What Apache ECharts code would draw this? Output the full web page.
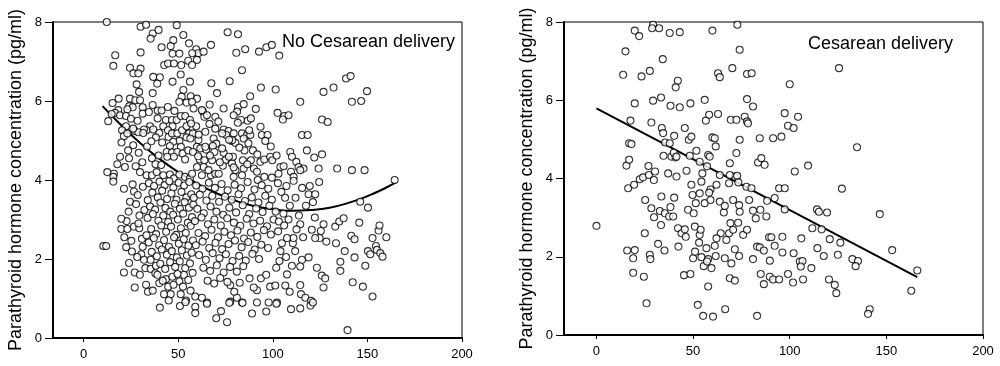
<!DOCTYPE html>
<html>
<head>
<meta charset="utf-8">
<script src="https://cdn.jsdelivr.net/npm/echarts@6/dist/echarts.min.js"></script>
<style>
html,body{margin:0;padding:0;background:#fff;}
#chart{width:1000px;height:366px;}
</style>
</head>
<body>
<div id="chart"></div>
<script>
// ---------- DATA ----------
const xTickValues = [0, 50, 100, 150, 200];
const yTickValues = [0, 2, 4, 6, 8];
const yAxisTitle = 'Parathyroid hormone concentration (pg/ml)';
const leftLabel = 'No Cesarean delivery';
const rightLabel = 'Cesarean delivery';

// Left panel: no cesarean delivery (x, PTH)
const leftPointsTop = [
[12.2,8.0],[30.1,7.88],[33.0,7.93],[36.5,7.71],[39.6,7.8],[35.4,7.58],[49.2,7.92],[52.7,7.67],[47.4,7.54],[46.0,7.39],[47.0,7.2],[50.6,7.2],[55.7,7.46],[41.2,7.36],[16.7,7.16],[15.7,6.89],[30.1,7.23],[24.5,6.84],[26.3,6.7],[30.1,6.82],[28.9,6.7],[42.6,6.91],[44.6,6.95],[47.7,6.95],[51.6,6.91],[55.3,7.02],[36.8,6.61],[40.3,6.6],[38.9,6.44],[47.0,6.49],[51.3,6.67],[56.2,6.49],[28.0,6.42],[36.5,6.2],[29.3,6.23],[52.7,6.28],[51.8,6.11],[24.5,6.06],[27.3,6.02],[29.8,6.02],[18.5,6.06],[56.6,6.12],
[59.5,7.31],[60.6,7.21],[57.4,7.21],[63.4,7.25],[67.3,7.42],[59.9,7.04],[57.3,6.91],[76.1,7.74],[81.6,7.69],[80.7,7.22],[85.4,7.31],[92.7,7.25],[96.6,7.36],[99.5,7.42],[103.4,7.15],[83.7,6.78],[77.2,6.5],[93.7,6.34],[101.5,6.29],[126.8,6.23],[59.9,6.06],[132.1,6.34],[138.7,6.57],[141.1,6.63],[149.8,6.25],[146.7,6.0],[141.8,5.98],
[70.5,6.2],[88.0,6.12],[91.0,5.8],[67.5,6.45]
];
const leftPointsMidLeft = [
[50.6,5.98],[54.4,5.96],[24.1,5.87],[25.9,5.84],[15.3,5.95],[31.2,5.84],[31.2,5.68],[18.3,5.77],[16.6,5.7],[14.8,5.67],[19.2,5.64],[23.1,5.79],[22.4,5.62],[39.1,5.76],[41.2,5.76],[39.1,5.56],[43.5,5.52],[46.7,5.52],[47.0,5.36],[49.2,5.52],[51.4,5.62],[53.7,5.62],[56.2,5.52],[13.0,5.49],[35.1,5.36],[33.3,5.26],[31.9,5.28],[36.8,5.28],[40.0,5.19],[38.2,5.08],[27.1,5.24],[28.9,5.21],[31.5,5.19],[22.4,5.36],[20.3,5.26],[21.3,5.11],[23.1,5.18],[26.2,5.3],[42.1,5.36],[44.6,5.26],[44.9,5.09],[46.7,5.18],[49.5,5.18],[52.0,5.26],[54.4,5.36],[55.8,5.18],[54.4,5.08],[50.6,4.99],[47.4,4.97],[51.4,4.84],[45.6,4.86],[43.9,4.71],[46.7,4.7],[49.5,4.71],[52.3,4.67],[55.3,4.75],[53.6,4.52],[26.2,4.88],[29.1,4.69],[39.6,4.62],[36.1,4.55],[44.2,4.59],[47.7,4.59],[19.2,4.59],[17.8,4.4],[21.8,4.33],[16.0,4.16],[29.8,4.2],[33.3,4.12],[36.1,4.12],[38.6,4.2],[42.1,4.12],[45.6,4.14],[47.7,4.04],[50.6,4.14],[53.6,4.08],[56.2,4.04],[12.5,4.2],[15.7,4.08],
[33.5,4.85],[35.8,4.98],[41.5,4.95],[38.0,4.4],[41.0,4.38],[31.0,4.45],[24.0,4.55],[27.5,4.35],[34.5,5.72],[36.5,5.9],[44.5,5.85],[48.0,5.75],[25.0,5.55],[28.5,5.5],[20.0,4.95],[23.5,4.75]
];
const leftPointsMidRight = [
[59.5,5.36],[57.8,5.18],[56.4,5.05],[59.9,4.84],[57.8,4.71],[74.0,5.28],[76.6,5.24],[75.4,5.14],[79.3,5.18],[78.2,4.99],[80.2,4.94],[83.7,5.18],[86.3,5.14],[84.6,5.05],[88.1,5.14],[94.2,5.14],[97.2,5.14],[96.0,4.99],[115.4,5.14],[118.4,5.14],[68.7,5.05],[70.1,4.92],[68.3,4.86],[69.1,4.71],[61.7,4.8],[64.8,4.77],[61.3,4.52],[63.8,4.5],[63.4,4.33],[59.9,4.33],[74.0,4.69],[74.9,4.5],[73.6,4.36],[78.4,4.42],[78.9,4.59],[80.2,4.25],[79.3,4.32],[85.0,4.75],[89.5,4.75],[84.2,4.5],[84.6,4.29],[90.0,4.29],[91.6,4.21],[93.4,4.46],[95.5,4.52],[98.6,4.59],[99.7,4.5],[104.0,4.33],[105.7,4.35],[109.2,4.71],[110.1,4.59],[112.4,4.46],[113.6,4.33],[116.2,4.29],[121.9,4.57],[124.2,4.29],[57.3,4.16],[62.5,4.12],[67.3,4.12],[69.6,4.16],[79.3,4.08],[83.7,4.12],[95.5,4.08],[99.5,4.06],[103.0,4.16],[109.6,4.21],[111.0,4.08],[114.5,4.25],
[57.3,5.98],[58.1,5.81],[63.1,5.73],[63.8,5.6],[66.6,5.91],[74.0,5.81],[81.6,5.85],[81.1,5.73],[79.3,5.64],[84.6,5.92],[83.2,5.52],[86.7,5.5],[88.4,5.56],[102.5,5.7],[106.0,5.62],[108.3,5.64],[105.3,5.53],[126.0,5.53],[129.0,5.47],[114.5,5.98],[134.0,4.29],[141.8,4.25],[148.5,4.25],[164.4,4.0],
[62.5,5.77],[65.2,5.64],[69.6,5.6],[56.8,5.43],[64.3,5.22],[69.6,5.3],[73.2,5.18],[60.7,5.01],[64.3,4.84],[73.2,4.8],[78.6,5.01],[87.5,5.26],[76.8,4.59],[88.4,4.5],[67.9,4.5],[71.4,4.16],[66.0,4.25],
[60.8,5.15],[66.5,5.42],[71.2,5.48],[76.9,5.02],[82.3,4.82],[87.1,4.93],[91.8,4.65],[93.5,5.35],[98.9,4.85],[72.0,4.45],[66.8,4.62],[86.5,4.4],[92.0,4.0],[60.5,4.6],[81.5,5.45],
[106.5,3.55],[109.0,3.35],[119.5,3.85],[124.5,3.95],[126.0,4.65],[118.0,4.75],[102.0,4.62]
];
const leftPointsLowLeft = [
[15.7,3.96],[21.3,3.78],[25.9,3.89],[26.6,3.71],[24.5,3.45],[27.7,3.39],[23.8,3.2],[22.7,2.96],[19.9,3.02],[19.9,2.76],[23.1,2.76],[26.6,2.82],[29.4,2.78],[25.2,2.46],[30.8,2.51],[31.2,2.31],[25.5,2.19],[30.5,2.12],[31.9,1.98],[35.4,1.98],[32.6,1.77],[35.4,1.75],[38.2,1.83],[37.9,1.64],[21.3,1.66],[27.0,1.66],[27.0,1.28],[34.0,1.17],[40.3,0.77],[40.0,1.39],[43.5,1.49],[44.7,1.3],[42.5,1.11],[46.0,1.11],[51.3,1.11],[50.9,0.81],[50.6,1.43],[53.0,1.6],[54.1,0.95],[10.4,2.33],[11.9,2.33],
[28.6,3.62],[29.5,3.1],[32.1,3.24],[33.9,3.49],[31.3,3.83],[28.3,2.05],[33.2,2.6],
[34.5,3.92],[37.2,3.85],[40.1,3.96],[42.8,3.87],[45.3,3.97],[47.4,3.81],[50.2,3.93],[53.1,3.86],[55.8,3.95],
[36.3,3.68],[39.2,3.56],[41.5,3.73],[44.1,3.52],[46.4,3.66],[49.1,3.5],[51.7,3.7],[54.3,3.56],[56.9,3.64],
[35.1,3.33],[37.8,3.25],[40.6,3.43],[43.2,3.29],[45.8,3.2],[48.2,3.4],[50.9,3.27],[53.4,3.44],[55.7,3.3],[58.0,3.38],
[33.8,3.04],[36.6,3.14],[39.5,2.97],[42.1,3.1],[44.7,2.94],[47.3,3.12],[49.8,3.0],[52.6,3.15],[55.1,2.92],[57.3,3.06],
[35.7,2.76],[38.3,2.63],[41.0,2.85],[43.6,2.69],[46.2,2.82],[48.9,2.61],[51.4,2.78],[54.0,2.66],[56.6,2.84],
[34.4,2.42],[37.1,2.53],[39.9,2.35],[42.5,2.48],[45.1,2.31],[47.8,2.55],[50.3,2.39],[52.9,2.5],[55.4,2.34],[57.8,2.47],
[36.0,2.18],[38.7,2.07],[41.3,2.24],[44.0,2.11],[46.6,2.2],[49.3,2.04],[51.9,2.22],[54.6,2.09],[57.1,2.16],
[40.5,1.88],[43.1,1.75],[45.7,1.92],[48.4,1.8],[50.8,1.94],[53.7,1.77],[56.2,1.89],
[46.9,1.55],[49.6,1.62],[55.3,1.47],[57.6,1.65],[53.8,0.91],
[22.5,2.3],[24.0,1.9],[29.7,1.6],[33.0,1.35],[36.5,1.2],[39.0,1.6],[41.8,1.45],[47.5,1.35],[45.0,0.95],[52.5,1.3],[56.5,1.2],[29.0,2.9],[21.5,2.55]
];
const leftPointsLowRight = [
[111.0,3.98],[118.9,3.64],[122.4,3.64],[121.2,3.44],[114.5,2.88],[122.2,3.05],[125.4,2.71],[126.8,2.88],[120.6,2.74],[124.7,2.53],[128.3,2.44],[122.4,2.53],[104.8,2.4],[110.6,2.4],[110.9,2.53],[107.5,2.53],[118.9,2.04],[115.4,1.98],[114.5,1.81],[110.1,1.83],[107.5,1.61],[123.3,1.78],[125.9,1.58],[127.7,1.51],[126.8,1.28],[101.8,1.78],[106.6,1.33],[108.9,1.17],[114.5,1.34],[114.9,1.11],[117.2,1.02],[120.2,0.94],[119.9,0.82],[109.6,0.73],[114.5,0.75],[102.2,0.9],[97.8,0.9],[96.5,0.67],[89.0,0.62],[75.8,0.4],[70.1,0.5],[72.6,0.68],[59.0,1.05],[62.5,1.02],[65.2,0.9],[59.0,0.79],[59.0,0.63],[77.5,0.92],[81.0,1.02],[83.7,0.9],[79.6,1.17],[77.5,1.34],[91.6,1.21],[87.7,1.51],[89.9,1.28],[93.7,1.51],[96.5,1.6],[98.6,1.3],[101.3,1.33],
[59.5,3.86],[62.8,3.78],[66.2,3.93],[69.4,3.8],[72.9,3.9],[76.1,3.74],[79.8,3.88],[83.2,3.79],[86.7,3.95],[90.3,3.76],[94.1,3.87],[97.6,3.78],
[58.2,3.55],[61.4,3.63],[64.9,3.48],[68.0,3.6],[71.6,3.45],[74.7,3.58],[78.3,3.5],[81.9,3.64],[85.3,3.47],[88.9,3.56],[92.4,3.43],[96.0,3.6],[99.5,3.5],
[60.1,3.27],[63.5,3.16],[67.1,3.33],[70.2,3.2],[73.8,3.12],[77.0,3.3],[80.6,3.18],[84.1,3.36],[87.5,3.14],[91.2,3.28],[94.6,3.19],[98.2,3.35],
[58.8,2.96],[62.3,3.05],[65.7,2.88],[69.1,3.0],[72.5,2.85],[75.9,3.03],[79.4,2.92],[82.8,2.84],[86.2,3.02],[89.8,2.9],[93.3,2.97],[96.9,2.83],[100.4,3.0],
[60.7,2.66],[64.2,2.58],[67.6,2.74],[71.0,2.55],[74.4,2.69],[77.9,2.6],[81.3,2.72],[84.8,2.52],[88.4,2.67],[91.8,2.56],[95.3,2.73],[99.0,2.62],
[59.3,2.35],[62.9,2.44],[66.4,2.28],[69.7,2.41],[73.2,2.25],[76.6,2.38],[80.0,2.47],[83.5,2.3],[87.0,2.43],[90.4,2.24],[93.9,2.36],[97.5,2.28],
[61.0,2.1],[64.6,1.98],[68.2,2.15],[71.8,2.02],[75.2,2.12],[78.7,1.95],[82.2,2.08],[85.7,1.96],[89.2,2.13],[92.7,2.0],
[63.3,1.78],[66.9,1.7],[70.4,1.84],[74.0,1.66],[77.4,1.8],[81.0,1.68],[84.4,1.82],
[65.5,1.45],[69.0,1.38],[72.2,1.52],[76.0,1.42],[82.5,1.4],
[101.5,3.2],[103.2,2.95],[105.6,3.15],[102.8,2.7],[106.0,2.85],[108.3,3.0],[104.0,2.2],[107.0,2.05],[103.5,1.95],[111.8,2.2],[112.5,2.75],[113.8,3.1],[116.0,2.55],[117.5,3.35],[112.0,3.55],[115.5,3.8],[104.5,3.7],[107.2,3.85],[102.7,3.92],
[146.2,3.45],[150.3,3.3],[133.0,2.82],[135.1,2.95],[137.4,3.03],[133.4,2.4],[145.7,2.92],[141.5,2.59],[143.2,2.5],[138.0,2.2],[135.7,1.93],[135.7,1.7],[143.2,2.04],[148.9,1.83],[152.7,2.53],[155.9,2.72],[156.4,2.85],[160.0,2.55],[150.3,2.2],[151.5,2.12],[154.5,2.33],[155.0,2.23],[156.8,2.15],[158.0,2.06],[142.2,1.41],[147.6,1.3],[152.7,1.05],[139.5,0.2],
[65.2,0.87],[77.0,0.89],[84.0,0.89],[91.6,0.9],[101.9,0.87],[121.2,0.9]
];
// Fitted quadratic curve
const leftCurve = [[10,5.87],[20,5.38],[30,4.93],[40,4.54],[50,4.2],[60,3.91],[70,3.67],[80,3.48],[90,3.34],[100,3.26],[110,3.22],[120,3.24],[130,3.3],[140,3.42],[150,3.59],[160,3.81],[165,3.94]];

// Right panel: cesarean delivery (x, PTH)
const rightPointsA = [
[0,2.79],[13.8,6.65],[15.0,7.25],[19.8,7.78],[22.1,7.64],[29.3,7.93],[28.8,7.84],[32.4,7.84],[37.9,7.72],[43.1,7.74],[60.0,7.78],[72.9,7.93],[74.1,7.29],[70.3,6.82],[23.3,6.61],[27.6,6.75],[34.3,7.05],[42.1,6.5],[41.0,6.33],[62.9,6.69],[63.8,6.59],[77.9,6.67],[80.3,6.69],[29.3,5.99],[33.4,6.07],[19.8,5.92],[38.3,5.86],[43.1,5.82],[48.6,5.92],[56.0,6.01],[17.6,5.48],[28.4,5.43],[33.8,5.29],[34.5,5.16],[45.7,5.29],[56.6,5.48],[58.3,5.63],[62.9,5.65],[69.5,5.5],[72.4,5.5],[76.7,5.58],[77.9,5.46],[16.9,4.9],[18.1,4.88],[15.5,4.33],[16.9,4.48],[16.4,3.75],[19.5,3.84],[22.4,3.98],[24.1,4.03],[26.9,4.32],[27.1,4.09],[30.3,4.18],[29.7,3.96],[35.5,4.92],[34.7,4.58],[37.9,4.9],[40.2,5.09],[38.8,4.56],[40.9,4.54],[40.0,4.66],[41.4,4.56],[37.1,4.13],[41.4,4.05],[46.6,4.2],[47.8,4.99],[49.1,5.07],[48.3,4.58],[49.1,3.84],[51.7,4.71],[53.4,4.43],[49.7,3.58],[54.3,3.92],[54.8,4.13],[56.0,3.37],[51.4,3.37],[57.2,4.31],[57.8,4.6],[58.6,4.56],[60.0,5.05],[61.2,5.03],[61.7,4.82],[63.8,4.09],[59.0,3.72],[59.0,3.45],[62.1,3.84],[63.8,3.41],[65.9,3.13],[66.4,3.3],[69.0,4.39],[72.4,4.65],[71.6,4.05],[72.8,4.07],[69.0,4.09],[73.4,3.9],[74.1,4.99],[77.6,3.79],[79.0,3.45],[73.8,3.32],[74.1,3.15],[69.3,2.86],[68.6,2.6],[73.3,2.87],[75.9,2.56],[71.6,2.19],[73.8,2.02],[69.8,1.83],[69.0,1.45],[71.6,1.39],[66.6,0.66],[60.3,0.47],[55.2,0.49],[52.4,0.77],[57.8,1.24],[45.3,1.53]
];
const rightPointsB = [
[25.2,3.45],[28.4,3.24],[29.8,3.01],[33.6,3.54],[32.8,3.17],[35.4,3.11],[38.3,3.27],[37.6,3.03],[39.7,3.03],[40.2,3.51],[31.9,2.33],[33.4,2.81],[35.2,2.16],[42.2,2.73],[44.0,2.6],[45.7,2.7],[46.2,2.51],[42.4,2.26],[47.4,3.2],[50.3,3.11],[50.9,2.77],[50.0,1.96],[48.6,1.56],[51.0,2.13],[53.1,2.36],[53.4,2.56],[53.9,2.69],[54.3,1.99],[55.5,1.76],[56.9,2.22],[57.8,1.94],[57.2,1.88],[61.2,2.28],[61.7,2.02],[59.5,1.71],[66.4,1.96],[19.8,2.17],[19.0,1.96],[15.9,2.16],[19.0,1.59],[24.5,1.49],[25.9,0.81],[27.6,2.05],[27.9,1.94],[25.0,2.6],
[53.4,3.62],[58.3,3.64],[68.6,3.88],[64.3,2.6],[62.1,2.47],[67.2,2.43],[70.7,2.69],[70.7,3.45],[77.9,2.69]
];
const rightPointsC = [
[100.0,6.41],[125.5,6.82],[77.9,6.03],[81.0,5.84],[78.4,5.41],[97.4,5.67],[99.1,5.35],[102.0,5.29],[104.3,5.58],[84.5,5.03],[91.4,5.03],[95.7,5.07],[83.6,4.41],[85.3,4.52],[87.0,4.35],[102.6,4.18],[109.5,4.33],[134.8,4.8],[80.2,3.75],[94.5,3.75],[97.4,3.75],[92.2,3.5],[88.3,3.43],[81.0,3.18],[84.8,3.2],[82.4,2.98],[87.9,3.03],[97.4,3.21],[114.1,3.21],[115.1,3.15],[119.3,3.13],[127.0,3.74],[146.6,3.09],[111.7,2.73],[116.5,2.7],[106.0,2.47],[120.7,2.45],[126.2,2.36],[89.3,2.5],[90.5,2.5],[96.2,2.51],[92.2,2.28],[83.1,2.26],[84.5,2.24],[81.0,1.94],[86.6,2.16],[89.7,1.9],[96.2,2.11],[102.0,2.09],[105.2,1.88],[106.6,1.89],[105.7,1.75],[111.2,1.71],[114.3,2.22],[117.6,2.02],[124.9,2.05],[132.4,1.94],[135.3,1.89],[134.1,1.76],[153.0,2.17],[85.0,1.56],[86.6,1.3],[89.7,1.49],[91.4,1.42],[94.5,1.42],[99.1,1.56],[101.7,1.34],[106.9,1.42],[120.3,1.42],[123.3,1.28],[124.1,1.07],[83.1,0.49],[141.4,0.66],[140.5,0.54],[162.9,1.13],[166.0,1.65]
];
// Fitted regression line
const rightLine = [[0,5.79],[166,1.48]];

// ---------- CHART ----------
const FONT = '"Liberation Sans", Arial, sans-serif';
const leftPoints = leftPointsTop.concat(leftPointsMidLeft, leftPointsMidRight, leftPointsLowLeft, leftPointsLowRight);
const rightPoints = rightPointsA.concat(rightPointsB, rightPointsC);

function xAx(gi, min) {
  return {
    gridIndex: gi, type: 'value', min: min, max: 200,
    axisLine: { show: true, onZero: false, lineStyle: { color: '#000', width: 2 } },
    axisTick: { show: true, inside: false, length: 4, customValues: xTickValues, lineStyle: { color: '#000', width: 1 } },
    axisLabel: { show: true, customValues: xTickValues, color: '#000', fontSize: 13, fontFamily: FONT, margin: 10 },
    splitLine: { show: false }
  };
}
function yAx(gi, gap) {
  return {
    gridIndex: gi, type: 'value', min: 0, max: 8, interval: 2,
    name: yAxisTitle, nameLocation: 'middle', nameGap: gap,
    nameTextStyle: { color: '#000', fontSize: 18, fontFamily: FONT },
    axisLine: { show: true, onZero: false, lineStyle: { color: '#000', width: 2 } },
    axisTick: { show: true, inside: false, length: 8, lineStyle: { color: '#000', width: 1 } },
    axisLabel: { show: true, color: '#000', fontSize: 13, fontFamily: FONT, margin: 11 },
    splitLine: { show: false }
  };
}
const scatterStyle = { color: '#fff', borderColor: '#000', borderWidth: 1.1 };

const chart = echarts.init(document.getElementById('chart'), null, { renderer: 'canvas' });
chart.setOption({
  animation: false,
  backgroundColor: '#fff',
  grid: [
    { left: 53, top: 22, width: 409, height: 316, show: true, borderColor: '#000', borderWidth: 1, backgroundColor: 'transparent' },
    { left: 564, top: 22, width: 419, height: 313, show: true, borderColor: '#000', borderWidth: 1, backgroundColor: 'transparent' }
  ],
  xAxis: [xAx(0, -16.2), xAx(1, -16.8)],
  yAxis: [yAx(0, 28), yAx(1, 28)],
  graphic: [
    { type: 'text', left: 282, top: 33, style: { text: leftLabel, fill: '#000', font: '18px ' + FONT } },
    { type: 'text', left: 808, top: 35, style: { text: rightLabel, fill: '#000', font: '18px ' + FONT } }
  ],
  series: [
    { type: 'line', xAxisIndex: 0, yAxisIndex: 0, data: leftCurve, smooth: true, showSymbol: false, z: 1,
      lineStyle: { color: '#000', width: 2 } },
    { type: 'scatter', xAxisIndex: 0, yAxisIndex: 0, data: leftPoints, symbol: 'circle', symbolSize: 7, z: 2,
      itemStyle: scatterStyle },
    { type: 'line', xAxisIndex: 1, yAxisIndex: 1, data: rightLine, showSymbol: false, z: 1,
      lineStyle: { color: '#000', width: 2 } },
    { type: 'scatter', xAxisIndex: 1, yAxisIndex: 1, data: rightPoints, symbol: 'circle', symbolSize: 7, z: 2,
      itemStyle: scatterStyle }
  ]
});
</script>
</body>
</html>
